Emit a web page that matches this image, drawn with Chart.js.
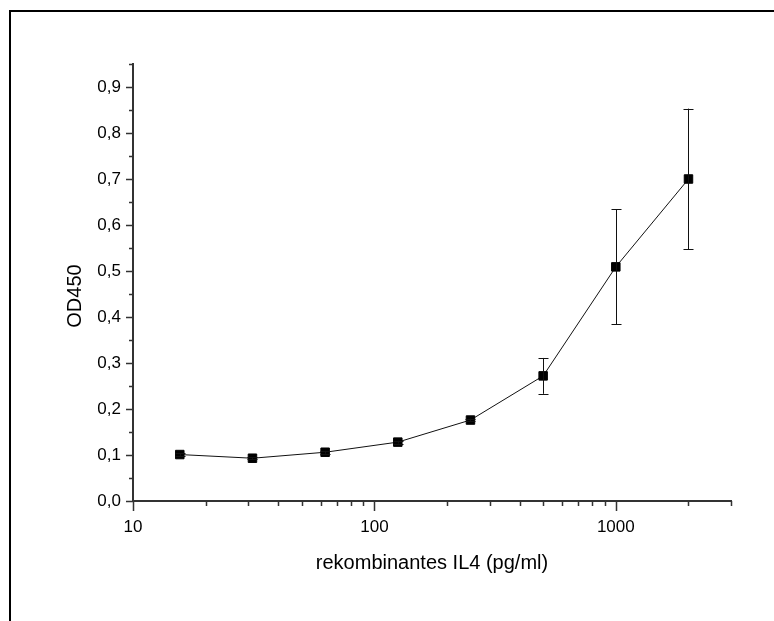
<!DOCTYPE html>
<html>
<head>
<meta charset="utf-8">
<script src="https://cdn.jsdelivr.net/npm/chart.js@4.4.1/dist/chart.umd.min.js"></script>
<style>
  body { margin: 0; background: #fff; }
  #wrap { position: relative; width: 774px; height: 621px; }
  #frame { position: absolute; left: 9px; top: 10px; width: 765px; height: 611px;
           border-left: 2px solid #000; border-top: 2px solid #000; pointer-events: none; }
</style>
</head>
<body>
<div id="wrap">
  <canvas id="chart" width="774" height="621"></canvas>
  <div id="frame"></div>
</div>
<script>
// concentrations (pg/ml) and measured OD450
const conc = [15.625, 31.25, 62.5, 125, 250, 500, 1000, 2000];
const od450 = [0.101, 0.093, 0.106, 0.128, 0.176, 0.272, 0.509, 0.700];
const odErr = [0.003, 0.002, 0.003, 0.003, 0.003, 0.039, 0.125, 0.153];

const xTicks = [10, 20, 30, 40, 50, 60, 70, 80, 90, 100, 200, 300, 400, 500, 600, 700, 800, 900, 1000, 2000, 3000];
const xLabeled = [10, 100, 1000];
const yTicks = [0, 0.05, 0.1, 0.15, 0.2, 0.25, 0.3, 0.35, 0.4, 0.45, 0.5, 0.55, 0.6, 0.65, 0.7, 0.75, 0.8, 0.85, 0.9, 0.95];
const yLabeled = [0, 0.1, 0.2, 0.3, 0.4, 0.5, 0.6, 0.7, 0.8, 0.9];

const axisColor = '#333';
const font = 'Liberation Sans, Arial, sans-serif';

function isIn(list, v) {
  return list.some(t => Math.abs(t - v) < 1e-9);
}

// error bars, tick marks and axis titles
const extras = {
  id: 'extras',
  afterDatasetsDraw(chart) {
    const ctx = chart.ctx;
    const xs = chart.scales.x, ys = chart.scales.y;
    ctx.save();
    ctx.strokeStyle = '#111';
    ctx.lineWidth = 1;
    conc.forEach((c, i) => {
      const px = Math.round(xs.getPixelForValue(c)) + 0.5;
      const top = ys.getPixelForValue(od450[i] + odErr[i]);
      const bot = ys.getPixelForValue(od450[i] - odErr[i]);
      ctx.beginPath();
      ctx.moveTo(px, top); ctx.lineTo(px, bot);
      ctx.moveTo(px - 5, Math.round(top) + 0.5); ctx.lineTo(px + 5, Math.round(top) + 0.5);
      ctx.moveTo(px - 5, Math.round(bot) + 0.5); ctx.lineTo(px + 5, Math.round(bot) + 0.5);
      ctx.stroke();
    });
    ctx.restore();
  },
  afterDraw(chart) {
    const ctx = chart.ctx;
    const xs = chart.scales.x, ys = chart.scales.y;
    const area = chart.chartArea;
    ctx.save();
    ctx.strokeStyle = axisColor;
    ctx.lineWidth = 1.5;
    ctx.beginPath();
    xTicks.forEach(t => {
      const px = Math.round(xs.getPixelForValue(t)) + 0.5;
      const len = isIn(xLabeled, t) ? 10 : 5;
      ctx.moveTo(px, area.bottom); ctx.lineTo(px, area.bottom + len);
    });
    yTicks.forEach(t => {
      const py = Math.round(ys.getPixelForValue(t)) + 0.5;
      const len = isIn(yLabeled, t) ? 7 : 4;
      ctx.moveTo(area.left, py); ctx.lineTo(area.left - len, py);
    });
    ctx.stroke();

    ctx.fillStyle = '#000';
    ctx.font = '20px ' + font;
    ctx.textAlign = 'center';
    ctx.textBaseline = 'middle';
    ctx.fillText('rekombinantes IL4 (pg/ml)', (area.left + area.right) / 2, 563);
    ctx.translate(75, 296);
    ctx.rotate(-Math.PI / 2);
    ctx.fillText('OD450', 0, 0);
    ctx.restore();
  }
};

new Chart(document.getElementById('chart').getContext('2d'), {
  type: 'scatter',
  data: {
    datasets: [{
      data: conc.map((c, i) => ({ x: c, y: od450[i] })),
      showLine: true,
      borderColor: '#111',
      borderWidth: 1,
      backgroundColor: '#000',
      pointStyle: 'rect',
      pointRadius: 6,
      pointBorderWidth: 1,
      pointBorderColor: '#000',
      pointBackgroundColor: '#000'
    }]
  },
  options: {
    responsive: false,
    animation: false,
    events: [],
    layout: { padding: { left: 0, top: 64, right: 43, bottom: 0 } },
    plugins: { legend: { display: false }, tooltip: { enabled: false } },
    scales: {
      x: {
        type: 'logarithmic',
        min: 10,
        max: 3000,
        afterBuildTicks: s => { s.ticks = xTicks.map(v => ({ value: v })); },
        afterFit: s => { s.height = 120; },
        grid: { display: false, drawTicks: false },
        border: { display: true, color: axisColor, width: 2 },
        ticks: {
          autoSkip: false,
          maxRotation: 0,
          padding: 16,
          color: '#000',
          font: { family: font, size: 17 },
          callback: v => isIn(xLabeled, v) ? String(v) : ''
        }
      },
      y: {
        min: 0,
        max: 0.95,
        afterBuildTicks: s => { s.ticks = yTicks.map(v => ({ value: v })); },
        afterFit: s => { s.width = 133; },
        grid: { display: false, drawTicks: false },
        border: { display: true, color: axisColor, width: 2 },
        ticks: {
          autoSkip: false,
          padding: 12,
          color: '#000',
          font: { family: font, size: 17 },
          callback: v => isIn(yLabeled, v) ? v.toFixed(1).replace('.', ',') : ''
        }
      }
    }
  },
  plugins: [extras]
});
</script>
</body>
</html>
